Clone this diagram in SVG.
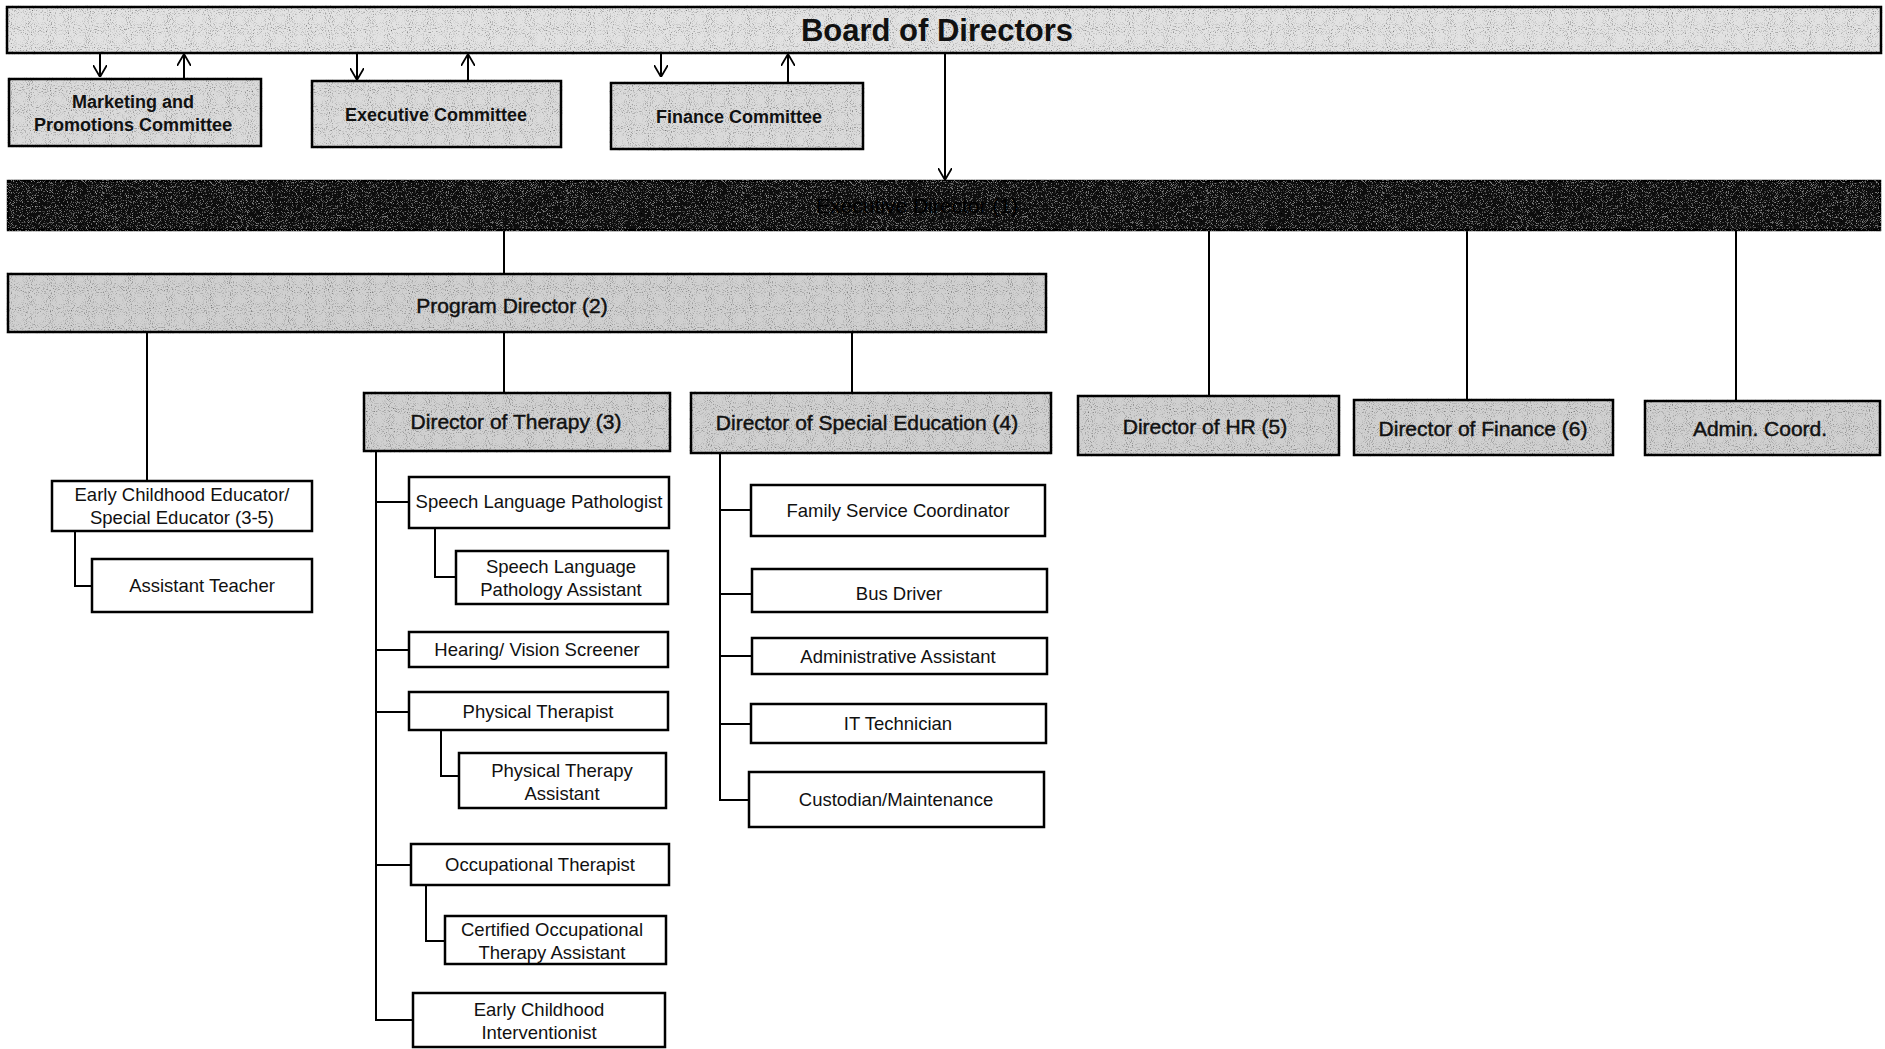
<svg xmlns="http://www.w3.org/2000/svg" width="1885" height="1049" viewBox="0 0 1885 1049">
  <style>
    .box { stroke: #000; stroke-width: 2.5; }
    .white { fill: #fff; }
    .grey { fill: #d0d0d0; filter: url(#grain); }
    .light { fill: #dadada; filter: url(#grain); }
    .board { fill: #e2e2e2; filter: url(#grain); }
    .dark { fill: #0a0a0a; filter: url(#grainLight); }
    .t { font-family: "Liberation Sans", Arial, sans-serif; font-size: 18.5px; fill: #111; text-anchor: middle; }
    .dir { font-size: 21px; stroke: #111; stroke-width: 0.45; }
    .cmt { font-size: 18px; font-weight: bold; }
    .big { font-size: 31px; font-weight: bold; }
    .hidden { fill: #000; stroke: none; }
    .link { stroke: #000; stroke-width: 2; fill: none; }
  </style>
  <defs>
    <!-- stippled texture for the shaded boxes -->
    <filter id="grain" x="-2%" y="-10%" width="104%" height="120%">
      <feTurbulence type="fractalNoise" baseFrequency="0.95" numOctaves="1" seed="4" result="noise"/>
      <feColorMatrix in="noise" type="matrix" values="0 0 0 0 0  0 0 0 0 0  0 0 0 0 0  2.6 0 0 0 -1.38" result="dots"/>
      <feComposite in="dots" in2="SourceGraphic" operator="in" result="clipped"/>
      <feMerge><feMergeNode in="SourceGraphic"/><feMergeNode in="clipped"/></feMerge>
    </filter>
    <filter id="grainLight" x="-2%" y="-10%" width="104%" height="120%">
      <feTurbulence type="fractalNoise" baseFrequency="1.2" numOctaves="2" seed="7" result="noise"/>
      <feColorMatrix in="noise" type="matrix" values="0 0 0 0 0.5  0 0 0 0 0.5  0 0 0 0 0.5  2.4 0 0 0 -1.35" result="dots"/>
      <feComposite in="dots" in2="SourceGraphic" operator="in" result="clipped"/>
      <feMerge><feMergeNode in="SourceGraphic"/><feMergeNode in="clipped"/></feMerge>
    </filter>
    <marker id="arrow" viewBox="0 0 12 14" refX="12" refY="7" markerWidth="12" markerHeight="14" markerUnits="userSpaceOnUse" orient="auto">
      <path d="M0,0 L12,7 L0,14" fill="none" stroke="#000" stroke-width="1.8"/>
    </marker>
  </defs>
  <rect width="1885" height="1049" fill="#fff"/>

  <!-- connectors -->
  <g id="connectors">
    <!-- board and committees -->
    <path class="link" d="M100,53 V77" marker-end="url(#arrow)"/>
    <path class="link" d="M184,79 V54" marker-end="url(#arrow)"/>
    <path class="link" d="M357,53 V80" marker-end="url(#arrow)"/>
    <path class="link" d="M468,81 V54" marker-end="url(#arrow)"/>
    <path class="link" d="M661,53 V77" marker-end="url(#arrow)"/>
    <path class="link" d="M788,83 V54" marker-end="url(#arrow)"/>
    <path class="link" d="M945,53 V180" marker-end="url(#arrow)"/>
    <!-- executive director to reports -->
    <path class="link" d="M504,230 V274"/>
    <path class="link" d="M1209,230 V396"/>
    <path class="link" d="M1467,230 V400"/>
    <path class="link" d="M1736,230 V402"/>
    <!-- program director to reports -->
    <path class="link" d="M147,332 V481"/>
    <path class="link" d="M504,332 V393"/>
    <path class="link" d="M852,332 V393"/>
    <!-- early childhood educator -->
    <path class="link" d="M75,531 V586 H92"/>
    <!-- therapy branch -->
    <path class="link" d="M376,451 V1020 H413"/>
    <path class="link" d="M376,502 H409"/>
    <path class="link" d="M376,650 H409"/>
    <path class="link" d="M376,712 H409"/>
    <path class="link" d="M376,865 H411"/>
    <path class="link" d="M435,528 V577 H456"/>
    <path class="link" d="M441,730 V776 H459"/>
    <path class="link" d="M426,885 V941 H445"/>
    <!-- special education branch -->
    <path class="link" d="M720,453 V800 H749"/>
    <path class="link" d="M720,510 H751"/>
    <path class="link" d="M720,594 H752"/>
    <path class="link" d="M720,656 H752"/>
    <path class="link" d="M720,724 H751"/>
  </g>

  <g id="board">
    <rect class="box board" x="7" y="7" width="1874" height="46"/>
    <text class="t big" x="937" y="41">Board of Directors</text>
  </g>
  <g id="marketing">
    <rect class="box light" x="9" y="79" width="252" height="67"/>
    <text class="t cmt" x="133" y="108">Marketing and</text>
    <text class="t cmt" x="133" y="131">Promotions Committee</text>
  </g>
  <g id="executive-committee">
    <rect class="box light" x="312" y="81" width="249" height="66"/>
    <text class="t cmt" x="436" y="121">Executive Committee</text>
  </g>
  <g id="finance-committee">
    <rect class="box light" x="611" y="83" width="252" height="66"/>
    <text class="t cmt" x="739" y="123">Finance Committee</text>
  </g>

  <g id="executive-director">
    <rect class="box dark" x="8" y="181" width="1872" height="49"/>
    <text class="t dir hidden" x="917" y="213">Executive Director (1)</text>
  </g>

  <g id="program-director">
    <rect class="box grey" x="8" y="274" width="1038" height="58"/>
    <text class="t dir" x="512" y="313">Program Director (2)</text>
  </g>
  <g id="director-therapy">
    <rect class="box grey" x="364" y="393" width="306" height="58"/>
    <text class="t dir" x="516" y="429">Director of Therapy (3)</text>
  </g>
  <g id="director-special-ed">
    <rect class="box grey" x="691" y="393" width="360" height="60"/>
    <text class="t dir" x="867" y="430">Director of Special Education (4)</text>
  </g>
  <g id="director-hr">
    <rect class="box grey" x="1078" y="396" width="261" height="59"/>
    <text class="t dir" x="1205" y="434">Director of HR (5)</text>
  </g>
  <g id="director-finance">
    <rect class="box grey" x="1354" y="400" width="259" height="55"/>
    <text class="t dir" x="1483" y="436">Director of Finance (6)</text>
  </g>
  <g id="admin-coord">
    <rect class="box grey" x="1645" y="401" width="235" height="54"/>
    <text class="t dir" x="1760" y="436">Admin. Coord.</text>
  </g>

  <g id="early-childhood-educator">
    <rect class="box white" x="52" y="481" width="260" height="50"/>
    <text class="t" x="182" y="501">Early Childhood Educator/</text>
    <text class="t" x="182" y="524">Special Educator (3-5)</text>
  </g>
  <g id="assistant-teacher">
    <rect class="box white" x="92" y="559" width="220" height="53"/>
    <text class="t" x="202" y="592">Assistant Teacher</text>
  </g>

  <g id="speech-pathologist">
    <rect class="box white" x="409" y="477" width="260" height="51"/>
    <text class="t" x="539" y="508">Speech Language Pathologist</text>
  </g>
  <g id="speech-assistant">
    <rect class="box white" x="456" y="551" width="212" height="53"/>
    <text class="t" x="561" y="573">Speech Language</text>
    <text class="t" x="561" y="596">Pathology Assistant</text>
  </g>
  <g id="hearing-vision">
    <rect class="box white" x="409" y="632" width="259" height="35"/>
    <text class="t" x="537" y="656">Hearing/ Vision Screener</text>
  </g>
  <g id="physical-therapist">
    <rect class="box white" x="409" y="692" width="259" height="38"/>
    <text class="t" x="538" y="718">Physical Therapist</text>
  </g>
  <g id="physical-therapy-assistant">
    <rect class="box white" x="459" y="753" width="207" height="55"/>
    <text class="t" x="562" y="777">Physical Therapy</text>
    <text class="t" x="562" y="800">Assistant</text>
  </g>
  <g id="occupational-therapist">
    <rect class="box white" x="411" y="844" width="258" height="41"/>
    <text class="t" x="540" y="871">Occupational Therapist</text>
  </g>
  <g id="cota">
    <rect class="box white" x="445" y="916" width="221" height="48"/>
    <text class="t" x="552" y="936">Certified Occupational</text>
    <text class="t" x="552" y="959">Therapy Assistant</text>
  </g>
  <g id="ec-interventionist">
    <rect class="box white" x="413" y="993" width="252" height="54"/>
    <text class="t" x="539" y="1016">Early Childhood</text>
    <text class="t" x="539" y="1039">Interventionist</text>
  </g>

  <g id="family-service">
    <rect class="box white" x="751" y="485" width="294" height="51"/>
    <text class="t" x="898" y="517">Family Service Coordinator</text>
  </g>
  <g id="bus-driver">
    <rect class="box white" x="752" y="569" width="295" height="43"/>
    <text class="t" x="899" y="600">Bus Driver</text>
  </g>
  <g id="admin-assistant">
    <rect class="box white" x="752" y="638" width="295" height="36"/>
    <text class="t" x="898" y="663">Administrative Assistant</text>
  </g>
  <g id="it-technician">
    <rect class="box white" x="751" y="704" width="295" height="39"/>
    <text class="t" x="898" y="730">IT Technician</text>
  </g>
  <g id="custodian">
    <rect class="box white" x="749" y="772" width="295" height="55"/>
    <text class="t" x="896" y="806">Custodian/Maintenance</text>
  </g>
</svg>
